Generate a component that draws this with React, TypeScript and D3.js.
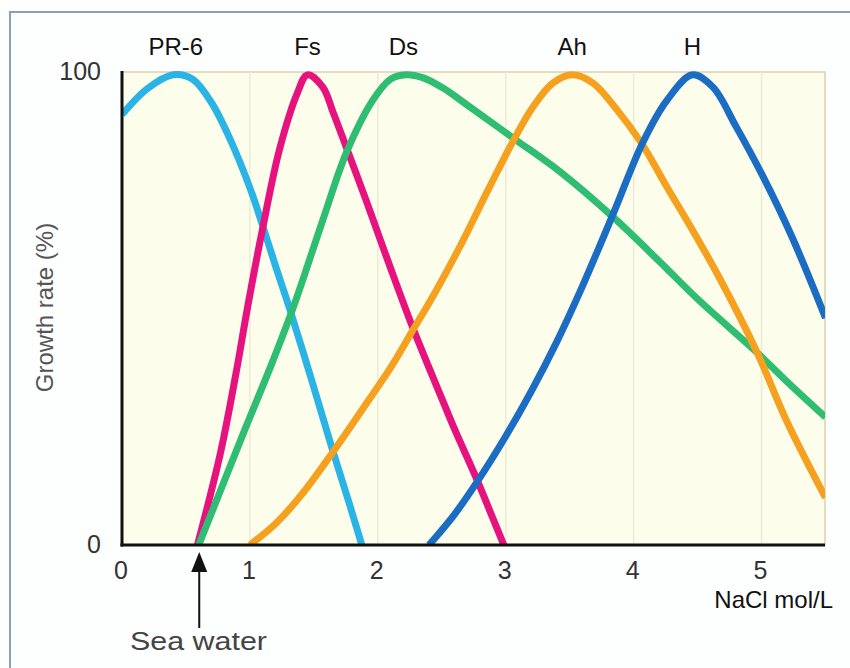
import React from 'react';
import * as d3 from 'd3';

// salinity (NaCl mol/L) vs growth rate (%)
const pr6: [number, number][] = [
  [0, 91], [0.2, 96.5], [0.4, 99.4], [0.55, 98.5], [0.7, 93.5], [0.85, 85.5],
  [1.0, 75.5], [1.1, 67.5], [1.2, 59], [1.31, 50], [1.47, 36], [1.63, 21.5],
  [1.78, 8.5], [1.875, 0],
];
const fs: [number, number][] = [
  [0.59, 0], [0.77, 19.5], [0.9, 37.6], [0.98, 50], [1.1, 67], [1.23, 83.5],
  [1.37, 95.5], [1.45, 99.4], [1.57, 96.8], [1.65, 91.5], [1.755, 84], [1.9, 73.5],
  [2.0, 66], [2.1, 58.5], [2.265, 46.5], [2.4, 37.5], [2.5, 31], [2.6, 24.5],
  [2.775, 13.8], [2.9, 5.6], [2.985, 0],
];
const ds: [number, number][] = [
  [0.6, 0], [0.95, 23.7], [1.16, 37.6], [1.34, 50.3], [1.57, 68.7], [1.755, 83],
  [1.96, 94], [2.1, 98.5], [2.22, 99.4], [2.35, 98.8], [2.51, 96.6], [2.7, 93],
  [3.06, 86], [3.42, 79], [3.84, 69.3], [4.2, 60], [4.5, 52], [4.96, 40.8],
  [5.2, 34.5], [5.5, 27],
];
const ah: [number, number][] = [
  [1.0, 0], [1.2, 4.5], [1.4, 10.5], [1.65, 19.7], [1.9, 29.5], [2.1, 37.5],
  [2.265, 45], [2.45, 53.5], [2.64, 63], [2.87, 75.5], [3.06, 85.5], [3.21, 92.5],
  [3.37, 97.7], [3.52, 99.4], [3.68, 97.7], [3.87, 92], [4.06, 85], [4.26, 75.7],
  [4.46, 66.6], [4.67, 56.5], [4.96, 41], [5.2, 26], [5.5, 10],
];
const h: [number, number][] = [
  [2.4, 0], [2.6, 6.5], [2.78, 13.5], [3.0, 23], [3.2, 32.5], [3.4, 43], [3.58, 53.5],
  [3.84, 70], [4.07, 85], [4.26, 94], [4.46, 99.4], [4.62, 96.8], [4.8, 88.5],
  [5.0, 78.5], [5.24, 65], [5.5, 48],
];

const seriesNames = ['PR-6', 'Fs', 'Ds', 'Ah', 'H'];
const seriesData = [pr6, fs, ds, ah, h];
const seriesColors = ['#2ab4e6', '#e6137f', '#2ebd72', '#f5a11f', '#1b6dc3'];
// where each name sits above the chart (x in mol/L)
const labelX = [0.42, 1.45, 2.2, 3.52, 4.46];

const xTicks = [0, 1, 2, 3, 4, 5];
const yTicks = [0, 100];
const seaWater = 0.6;

const W = 850;
const H = 668;
const m = { left: 122, right: 825, top: 72, bottom: 545 };

export default function App() {
  const x = d3.scaleLinear().domain([0, 5.5]).range([m.left, m.right + 0.5]);
  const y = d3.scaleLinear().domain([0, 100]).range([m.bottom, m.top]);

  const line = d3
    .line<[number, number]>()
    .x((d) => x(d[0]))
    .y((d) => y(d[1]))
    .curve(d3.curveCatmullRom.alpha(0.5));

  const font = "'Liberation Sans', Arial, Helvetica, sans-serif";

  return (
    <svg
      width={W}
      height={H}
      style={{ position: 'absolute', left: 0, top: 0, background: '#fff' }}
      fontFamily={font}
    >
      <defs>
        <clipPath id="plot">
          <rect x={m.left} y={0} width={m.right - m.left} height={m.bottom} />
        </clipPath>
      </defs>

      {/* outer frame, runs off the right and bottom */}
      <rect x={10} y={12} width={900} height={700} fill="#fdfefe" stroke="#8aa0bb" strokeWidth={2} />

      {/* plot area */}
      <rect
        x={m.left}
        y={m.top}
        width={m.right - m.left}
        height={m.bottom - m.top}
        fill="#fdfdec"
        stroke="#d9d2ae"
        strokeWidth={1.5}
      />
      {xTicks.slice(1).map((t) => (
        <line key={t} x1={x(t)} x2={x(t)} y1={m.top} y2={m.bottom} stroke="#ecebd6" strokeWidth={1.5} />
      ))}

      <g clipPath="url(#plot)" fill="none" strokeWidth={7}>
        {seriesData.map((d, i) => (
          <path key={seriesNames[i]} d={line(d) || ''} stroke={seriesColors[i]} />
        ))}
      </g>

      {/* axes */}
      <line x1={m.left} x2={m.left} y1={m.top - 1} y2={m.bottom + 1.5} stroke="#111" strokeWidth={3} />
      <line x1={m.left - 1.5} x2={m.right} y1={m.bottom} y2={m.bottom} stroke="#111" strokeWidth={3} />

      {yTicks.map((t) => (
        <text key={t} x={101} y={y(t) + 8} textAnchor="end" fontSize={25} fill="#333">
          {t}
        </text>
      ))}
      {xTicks.map((t) => (
        <text key={t} x={x(t) - 1} y={579} textAnchor="middle" fontSize={25} fill="#333">
          {t}
        </text>
      ))}

      {seriesNames.map((n, i) => (
        <text key={n} x={x(labelX[i])} y={55} textAnchor="middle" fontSize={24} fill="#111">
          {n}
        </text>
      ))}

      <text
        transform={`translate(53,${(m.top + m.bottom) / 2 - 1}) rotate(-90)`}
        textAnchor="middle"
        fontSize={24}
        fill="#555"
      >
        Growth rate (%)
      </text>

      <text x={833} y={608} textAnchor="end" fontSize={24} fill="#111">
        NaCl mol/L
      </text>

      {/* sea water marker */}
      <line x1={x(seaWater) + 0.5} x2={x(seaWater) + 0.5} y1={628} y2={566} stroke="#111" strokeWidth={2} />
      <path
        d={`M${x(seaWater) + 0.5},552 L${x(seaWater) - 7.5},572 L${x(seaWater) + 8.5},572 Z`}
        fill="#111"
      />
      <text
        x={198.5}
        y={650}
        textAnchor="middle"
        fontSize={25}
        fill="#444"
        textLength={137}
        lengthAdjust="spacingAndGlyphs"
      >
        Sea water
      </text>
    </svg>
  );
}
